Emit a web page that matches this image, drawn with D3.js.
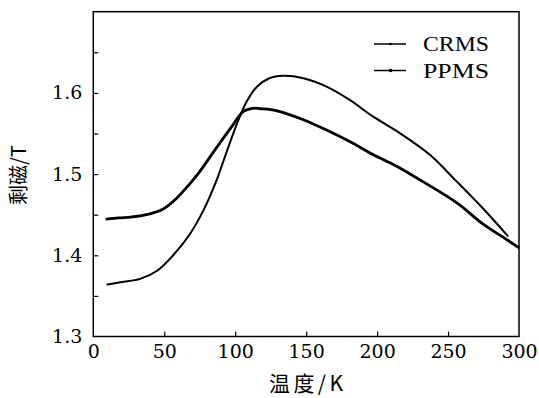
<!DOCTYPE html>
<html>
<head>
<meta charset="utf-8">
<script src="https://cdn.jsdelivr.net/npm/d3@7"></script>
<style>
  html, body { margin: 0; padding: 0; background: #fff; }
  svg { display: block; }
  svg text.num { font-family: 'DejaVu Serif', serif !important; font-size: 19px !important; }
</style>
</head>
<body>
<svg id="chart" width="539" height="398"></svg>
<script>
// ---- data ----
const crmsT = [10, 20, 33, 45, 56, 68, 77.5, 87, 91.5, 101, 108, 115, 124, 134, 148, 164, 181, 197, 216, 237, 256, 275, 292];
const crmsM = [1.364, 1.367, 1.371, 1.381, 1.3995, 1.426, 1.455, 1.493, 1.515, 1.561, 1.589, 1.607, 1.618, 1.621, 1.618, 1.608, 1.591, 1.571, 1.5505, 1.524, 1.491, 1.457, 1.424];

const ppmsT = [9.5, 18, 26, 33, 39, 49, 58, 68, 75, 83, 91.5, 98.6, 105.6, 112, 118, 125, 131.5, 148, 164, 183, 197, 209, 216, 232, 256, 275, 289, 299.5];
const ppmsM = [1.4445, 1.446, 1.447, 1.4485, 1.4506, 1.4567, 1.469, 1.488, 1.503, 1.523, 1.544, 1.561, 1.577, 1.581, 1.5805, 1.5795, 1.577, 1.567, 1.5546, 1.538, 1.524, 1.514, 1.5076, 1.491, 1.4648, 1.438, 1.422, 1.4097];

const xTicks = [0, 50, 100, 150, 200, 250, 300];
const yTicks = [1.3, 1.4, 1.5, 1.6];
const yMinorTicks = [1.35, 1.45, 1.55, 1.65];
const seriesNames = ["CRMS", "PPMS"];
const xLabel = "温度/K";
const yLabel = "剩磁/T";

// ---- layout ----
const CJK = "'Noto Sans CJK SC', 'Noto Sans', sans-serif";
const svg = d3.select("#chart");
const L = 93.3, R = 519, T = 11.7, B = 336.5;
const x = d3.scaleLinear().domain([0, 300]).range([L, R]);
const y = d3.scaleLinear().domain([1.3, 1.7]).range([B, T]);

// axes with inward ticks
const xAxis = d3.axisBottom(x).tickValues(xTicks).tickSizeInner(-5).tickSizeOuter(0).tickPadding(10).tickFormat(d3.format("d"));
const gx = svg.append("g").attr("transform", `translate(0,${B})`).call(xAxis);
gx.select(".domain").remove();
gx.selectAll("line").attr("stroke", "#000").attr("stroke-width", 1.2);
gx.selectAll("text").classed("num", true).attr("fill", "#000").attr("dy", "0.71em").attr("y", 8);
gx.selectAll(".tick").filter(d => d === 0 || d === 300).select("line").remove();

const yAxis = d3.axisLeft(y).tickValues(yTicks).tickSizeInner(-5).tickSizeOuter(0).tickPadding(10).tickFormat(d3.format(".1f"));
const gy = svg.append("g").attr("transform", `translate(${L},0)`).call(yAxis);
gy.select(".domain").remove();
gy.selectAll("line").attr("stroke", "#000").attr("stroke-width", 1.2);
gy.selectAll("text").classed("num", true).attr("fill", "#000").attr("x", -11);
gy.selectAll(".tick").filter(d => d === 1.3).select("line").remove();

const yMinor = d3.axisLeft(y).tickValues(yMinorTicks).tickSizeInner(-5).tickSizeOuter(0).tickFormat("");
const gym = svg.append("g").attr("transform", `translate(${L},0)`).call(yMinor);
gym.select(".domain").remove();
gym.selectAll("line").attr("stroke", "#000").attr("stroke-width", 1.2);

// frame
svg.append("rect").attr("x", L).attr("y", T).attr("width", R - L).attr("height", B - T)
  .attr("fill", "none").attr("stroke", "#000").attr("stroke-width", 1.5);

// lines
const line = d3.line().x(d => x(d[0])).y(d => y(d[1])).curve(d3.curveCatmullRom.alpha(0.5));
const crms = crmsT.map((t, i) => [t, crmsM[i]]);
const ppms = ppmsT.map((t, i) => [t, ppmsM[i]]);
svg.append("path").datum(crms).attr("d", line).attr("fill", "none").attr("stroke", "#000").attr("stroke-width", 2).attr("stroke-linecap", "round");
svg.append("path").datum(ppms).attr("d", line).attr("fill", "none").attr("stroke", "#000").attr("stroke-width", 2.8).attr("stroke-linecap", "round");

// legend
const legY = [44, 70.5];
const markR = [1.3, 1.8];
seriesNames.forEach((name, i) => {
  const g = svg.append("g");
  g.append("line").attr("x1", 374).attr("x2", 406).attr("y1", legY[i]).attr("y2", legY[i])
    .attr("stroke", "#000").attr("stroke-width", 1.5);
  g.append("circle").attr("cx", 390.5).attr("cy", legY[i]).attr("r", markR[i]).attr("fill", "#000");
  g.append("text").attr("x", 423).attr("y", legY[i] + 7.3).attr("font-family", "Liberation Serif").attr("font-size", 21)
    .attr("textLength", 66).attr("lengthAdjust", "spacingAndGlyphs").attr("fill", "#000").text(name);
});

// axis titles
svg.append("text").attr("x", 306).attr("y", 391).attr("text-anchor", "middle")
  .style("font-family", CJK).style("font-size", "21px").attr("fill", "#000").attr("textLength", 74).attr("lengthAdjust", "spacing").text(xLabel);
svg.append("text").attr("transform", "translate(26,175) rotate(-90)").attr("text-anchor", "middle")
  .style("font-family", CJK).style("font-size", "20px").attr("fill", "#000").text(yLabel);
</script>
</body>
</html>
